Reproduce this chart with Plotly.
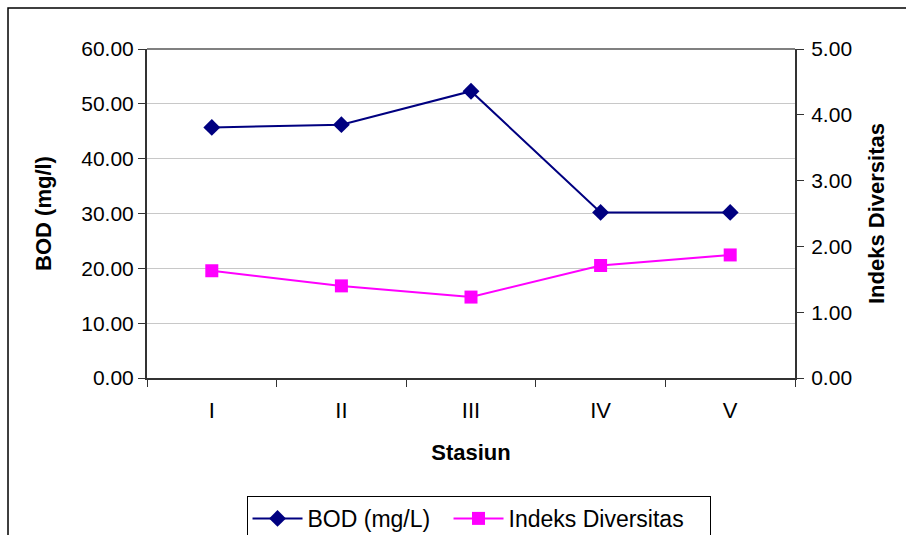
import plotly.graph_objects as go

stations = ["I", "II", "III", "IV", "V"]
bod = [45.7, 46.2, 52.3, 30.2, 30.2]
diversity = [1.63, 1.40, 1.23, 1.71, 1.87]

left_ticks = [0, 10, 20, 30, 40, 50, 60]
right_ticks = [0, 1, 2, 3, 4, 5]

font_family = "Liberation Sans, Arial, sans-serif"

fig = go.Figure()
fig.add_trace(go.Scatter(
    x=stations, y=bod, name="BOD (mg/L)", mode="lines+markers",
    line=dict(color="#000080", width=2),
    marker=dict(symbol="diamond", size=13, color="#000080"),
    legendwidth=136,
    yaxis="y"))
fig.add_trace(go.Scatter(
    x=stations, y=diversity, name="Indeks Diversitas", mode="lines+markers",
    line=dict(color="#ff00ff", width=2),
    marker=dict(symbol="square", size=13, color="#ff00ff"),
    legendwidth=196,
    yaxis="y2"))

fig.update_layout(
    width=906, height=535,
    margin=dict(l=147, r=111, t=49, b=157),
    paper_bgcolor="white", plot_bgcolor="white",
    font=dict(family=font_family, size=21, color="black"),
    showlegend=True,
    legend=dict(orientation="h", x=0.5116, xanchor="center",
                yref="container", y=0.073, yanchor="top",
                bordercolor="black", borderwidth=1, bgcolor="white",
                font=dict(size=23), itemwidth=50),
    xaxis=dict(type="category", range=[-0.5, 4.5], tickson="boundaries",
               ticks="outside", ticklen=7, tickcolor="#333333",
               showline=True, linecolor="#333333", linewidth=2,
               showgrid=False, tickfont=dict(size=22), ticklabelstandoff=12,
               title=dict(text="<b>Stasiun</b>", standoff=22, font=dict(size=22))),
    yaxis=dict(range=[0, 60], tickvals=left_ticks,
               ticktext=[f"{v:.2f}" for v in left_ticks],
               ticks="outside", ticklen=7, tickcolor="#333333",
               showline=True, linecolor="#333333", linewidth=2,
               gridcolor="#c8c8c8", gridwidth=1, zeroline=False,
               title=dict(text="<b>BOD (mg/l)</b>", standoff=24, font=dict(size=22))),
    yaxis2=dict(range=[0, 5], tickvals=right_ticks,
                ticktext=[f"{v:.2f}" for v in right_ticks],
                overlaying="y", side="right",
                ticks="outside", ticklen=7, tickcolor="#333333",
                showline=True, linecolor="#333333", linewidth=2,
                showgrid=False, zeroline=False, ticklabelstandoff=3,
                title=dict(text="<b>Indeks Diversitas</b>", standoff=18, font=dict(size=22))),
    shapes=[
        dict(type="line", xref="paper", yref="paper", x0=0, x1=1, y0=1, y1=1,
             line=dict(color="#808080", width=2)),
        dict(type="rect", xref="paper", yref="paper", x0=-0.2145, x1=1.3,
             y0=-0.6, y1=1.1246, line=dict(color="black", width=1.5),
             fillcolor="rgba(0,0,0,0)", layer="below"),
    ],
)

fig.write_html("out.html")
